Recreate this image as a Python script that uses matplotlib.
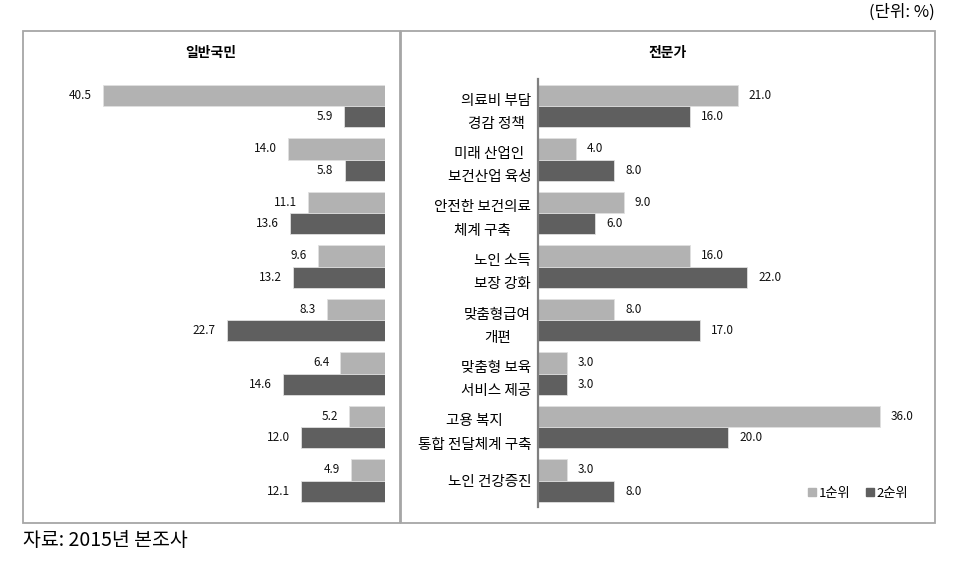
import matplotlib

matplotlib.use("Agg")
import matplotlib.pyplot as plt
import numpy as np
from matplotlib.patches import Patch, Rectangle

plt.rcParams["font.family"] = ["Noto Sans CJK KR", "DejaVu Sans"]

W, H = 967, 564

public_first = [40.5, 14.0, 11.1, 9.6, 8.3, 6.4, 5.2, 4.9]
public_second = [5.9, 5.8, 13.6, 13.2, 22.7, 14.6, 12.0, 12.1]

expert_labels = [
    "의료비 부담\n경감 정책",
    "미래 산업인\n보건산업 육성",
    "안전한 보건의료\n체계 구축",
    "노인 소득\n보장 강화",
    "맞춤형급여\n개편",
    "맞춤형 보육\n서비스 제공",
    "고용 복지\n통합 전달체계 구축",
    "노인 건강증진",
]
expert_first = [21.0, 4.0, 9.0, 16.0, 8.0, 3.0, 36.0, 3.0]
expert_second = [16.0, 8.0, 6.0, 22.0, 17.0, 3.0, 20.0, 8.0]

series_names = ["1순위", "2순위"]
LIGHT = "#b2b2b2"
DARK = "#5f5f5f"


def axes_px(x0, x1, y0, y1):
    # pixel box (top-left origin) -> figure fraction rect
    return [x0 / W, 1 - y1 / H, (x1 - x0) / W, (y1 - y0) / H]


fig = plt.figure(figsize=(W / 100, H / 100), dpi=100)

# panel frames
for x0, x1 in [(23, 400), (401, 935)]:
    fig.add_artist(
        Rectangle(
            (x0 / W, 1 - 523 / H),
            (x1 - x0) / W,
            (523 - 31) / H,
            transform=fig.transFigure,
            fill=False,
            edgecolor="#a6a6a6",
            lw=1.3,
        )
    )

y = np.arange(len(public_first))
bh = 0.4
top, bottom = 79.25, 507.25


def draw(ax, first, second, side):
    for vals, off, col in [(first, -bh / 2, LIGHT), (second, bh / 2, DARK)]:
        ax.barh(y + off, vals, height=bh, color=col, edgecolor="#e0e0e0", lw=0.6)
        for yi, v in zip(y + off, vals):
            ax.annotate(
                f"{v:.1f}",
                (v, yi),
                xytext=(8 * side, 0),
                textcoords="offset points",
                ha="left" if side > 0 else "right",
                va="center",
                fontsize=8.5,
                color="#111111",
            )
    ax.set_ylim(len(y) - 0.5, -0.5)
    ax.set_xticks([])
    for s in ax.spines.values():
        s.set_visible(False)
    ax.patch.set_alpha(0)


# left panel: general public, bars grow to the left
axl = fig.add_axes(axes_px(30, 385, top, bottom))
draw(axl, public_first, public_second, -1)
axl.set_xlim(355 / 6.96, 0)
axl.set_yticks([])

# right panel: experts
axr = fig.add_axes(axes_px(538, 920, top, bottom))
draw(axr, expert_first, expert_second, 1)
axr.set_xlim(0, 382 / 9.5)
axr.spines["left"].set_visible(True)
axr.spines["left"].set_color("#7f7f7f")
axr.spines["left"].set_linewidth(1.6)
axr.set_yticks(y)
axr.set_yticklabels(expert_labels, fontsize=10.5, multialignment="center", linespacing=1.85)
axr.tick_params(axis="y", length=0, pad=5)

axr.legend(
    handles=[Patch(color=LIGHT), Patch(color=DARK)],
    labels=series_names,
    loc="center",
    bbox_to_anchor=(858 / W, 1 - 493 / H),
    bbox_transform=fig.transFigure,
    ncol=2,
    frameon=False,
    fontsize=9.5,
    handlelength=0.6,
    handleheight=0.6,
    handletextpad=0.2,
    columnspacing=1.2,
)

fig.text(211 / W, 1 - 53 / H, "일반국민", ha="center", va="center", fontsize=10, fontweight="bold")
fig.text(668 / W, 1 - 53 / H, "전문가", ha="center", va="center", fontsize=10, fontweight="bold")
fig.text(935 / W, 1 - 12 / H, "(단위: %)", ha="right", va="center", fontsize=12)
fig.text(23 / W, 1 - 541 / H, "자료: 2015년 본조사", ha="left", va="center", fontsize=14)

fig.savefig("out.png", dpi=100)
